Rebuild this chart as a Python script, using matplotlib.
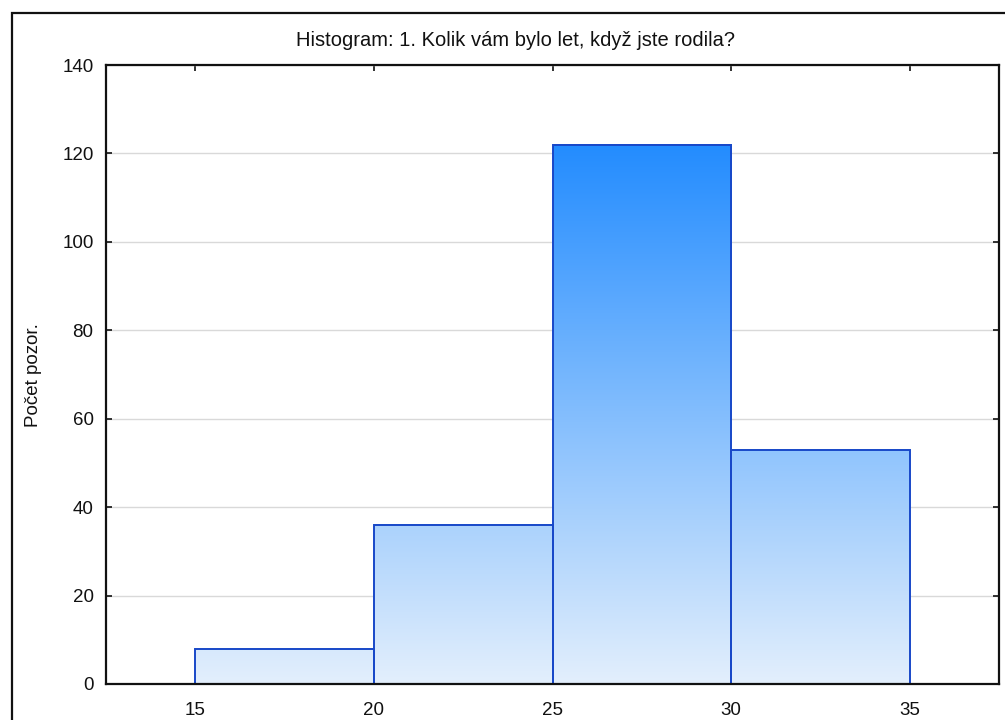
import matplotlib
matplotlib.use("Agg")
import matplotlib.pyplot as plt
import numpy as np
from matplotlib.colors import LinearSegmentedColormap
from matplotlib.patches import Rectangle

plt.rcParams['font.family'] = ['Liberation Sans', 'DejaVu Sans']

bin_edges = [15, 20, 25, 30, 35]
counts = [8, 36, 122, 53]
title = "Histogram: 1. Kolik vám bylo let, když jste rodila?"
ylabel = "Počet pozor."
xticks = [15, 20, 25, 30, 35]
yticks = [0, 20, 40, 60, 80, 100, 120, 140]

W, H = 1005, 720
fig = plt.figure(figsize=(W / 100, H / 100), dpi=100)
fig.patch.set_facecolor('white')

# outer frame
fig.add_artist(Rectangle((12 / W, -0.05), 1.2, 1 - 13 / H + 0.05, transform=fig.transFigure,
                         fill=False, edgecolor='#111111', linewidth=1.6))

ax = fig.add_axes([106 / W, 1 - 684 / H, (999 - 106) / W, (684 - 65) / H])
ax.set_xlim(12.5, 37.5)
ax.set_ylim(0, 140)

cmap = LinearSegmentedColormap.from_list('g', ['#E3EFFC', '#238CFF'])
vmax = max(counts)
for i, c in enumerate(counts):
    x0, x1 = bin_edges[i], bin_edges[i + 1]
    grad = np.linspace(0, c, 256).reshape(-1, 1)
    ax.imshow(grad, extent=(x0, x1, 0, c), origin='lower', aspect='auto',
              cmap=cmap, vmin=0, vmax=vmax, zorder=2, interpolation='bilinear')
    ax.add_patch(Rectangle((x0, 0), x1 - x0, c, fill=False, edgecolor='#1848C8',
                           linewidth=1.4, zorder=3))

ax.set_xlim(12.5, 37.5)
ax.set_ylim(0, 140)
ax.set_xticks(xticks)
ax.set_yticks(yticks)
ax.yaxis.grid(True, color='#D9D9D9', linewidth=1.0, zorder=0)
ax.set_axisbelow(True)
ax.tick_params(direction='in', length=4, width=1.2, top=True, right=True,
               labelsize=13.5, colors='#111111', pad=9)
ax.tick_params(axis='x', bottom=False, pad=13)
for s in ax.spines.values():
    s.set_linewidth(1.6)
    s.set_color('#111111')
    s.set_zorder(5)

fig.text(516 / W, 1 - 40 / H, title, ha='center', va='center', fontsize=14.5, color='#111111')
fig.text(33 / W, 1 - 375 / H, ylabel, ha='center', va='center', rotation=90, fontsize=13.5,
         color='#111111')

fig.savefig('out.png', dpi=100)
